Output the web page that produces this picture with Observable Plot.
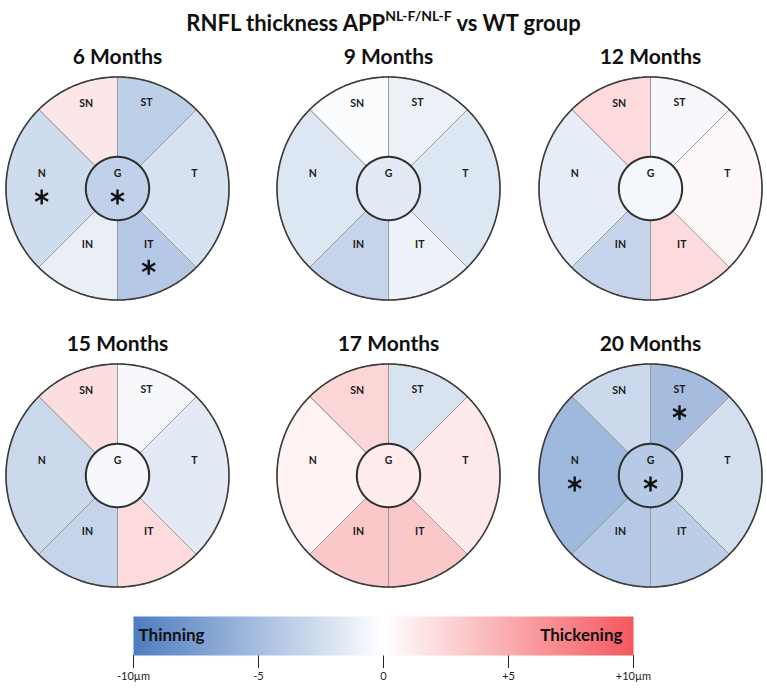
<!DOCTYPE html>
<html>
<head>
<meta charset="utf-8">
<script src="https://cdn.jsdelivr.net/npm/d3@7"></script>
<script src="https://cdn.jsdelivr.net/npm/@observablehq/plot@0.6"></script>
<style>
  body { margin: 0; background: #fff; font-family: Lato, "Open Sans", sans-serif; }
  #title { height: 44px; line-height: 46px; text-align: center; font-weight: 700; font-size: 22px; color: #111; white-space: nowrap; }
  #title sup { font-size: 14px; line-height: 0; position: relative; top: -0.1em; }
  #chart svg, #bar svg { display: block; }
</style>
</head>
<body>
<div id="title">RNFL thickness APP<sup>NL-F/NL-F</sup> vs WT group</div>
<div id="chart"></div>
<div id="bar"></div>
<script>
// ---------------- DATA ----------------
const months = ["6 Months", "9 Months", "12 Months", "15 Months", "17 Months", "20 Months"];
const sectors = ["SN", "ST", "T", "IT", "IN", "N", "G"];
// thickness difference (µm), APP NL-F/NL-F minus WT, in sector order above
const values6  = [ 1.5, -3.7, -2.3, -4.2, -1.2, -2.7, -3.5];
const values9  = [-0.2, -1.1, -1.9, -1.0, -3.3, -1.9, -1.6];
const values12 = [ 2.2, -0.5,  0.4,  2.2, -3.3, -1.4, -0.6];
const values15 = [ 2.0, -0.5, -1.6,  2.2, -3.3, -2.9, -0.5];
const values17 = [ 2.5, -2.2,  1.3,  3.3,  3.3,  0.8,  1.2];
const values20 = [-2.9, -5.1, -2.5, -3.8, -4.2, -5.4, -4.1];
const significant = [["N", "G", "IT"], [], [], [], [], ["ST", "N", "G"]];
const tickValues = [-10, -5, 0, 5, 10];
const tickLabels = ["-10µm", "-5", "0", "+5", "+10µm"];
const legendLow = "Thinning";
const legendHigh = "Thickening";

// ---------------- LAYOUT ----------------
const allValues = [values6, values9, values12, values15, values17, values20];
const PX = 111.5;                      // pixels per unit radius
const W = 767, H = 556;
const colCenters = [0, 271 / PX, 533 / PX];
const rowCenters = [0, -287 / PX];
const rInner = 0.284;
const sectorAngles = {SN: [90, 135], ST: [45, 90], T: [-45, 45], IT: [-90, -45], IN: [-135, -90], N: [135, 225]};
const labelOffset = {SN: [-0.28, 0.76], ST: [0.26, 0.77], T: [0.69, 0.13], IT: [0.28, -0.50], IN: [-0.27, -0.50], N: [-0.68, 0.13], G: [0, 0.13]};
const titleOffset = 1.18;
const starDrop = 23 / PX;
const rad = Math.PI / 180;

const colorScale = {type: "linear", domain: [-10, 0, 10], range: ["#4e7cc0", "#ffffff", "#f4585e"], interpolate: "rgb"};

const sectorPts = [], gPts = [], ringPts = [], labels = [], stars = [], titles = [];
months.forEach((m, i) => {
  const cx = colCenters[i % 3], cy = rowCenters[Math.floor(i / 3)];
  titles.push({x: cx, y: cy + titleOffset, text: m});
  sectors.forEach((s, j) => {
    const v = allValues[i][j];
    const id = m + "-" + s;
    const [lx, ly] = labelOffset[s];
    labels.push({x: cx + lx, y: cy + ly, text: s});
    if (significant[i].includes(s)) stars.push({x: cx + lx, y: cy + ly - starDrop});
    if (s === "G") {
      for (let a = 0; a < 360; a += 2) gPts.push({id, value: v, x: cx + rInner * Math.cos(a * rad), y: cy + rInner * Math.sin(a * rad)});
      return;
    }
    const [a0, a1] = sectorAngles[s];
    for (let a = a0; a <= a1; a += 1) sectorPts.push({id, value: v, x: cx + Math.cos(a * rad), y: cy + Math.sin(a * rad)});
    for (let a = a1; a >= a0; a -= 1) sectorPts.push({id, value: v, x: cx + rInner * Math.cos(a * rad), y: cy + rInner * Math.sin(a * rad)});
  });
  for (let a = 0; a < 360; a += 1) ringPts.push({id: m, x: cx + Math.cos(a * rad), y: cy + Math.sin(a * rad)});
});

const font = "Lato, 'Open Sans', sans-serif";

const chart = Plot.plot({
  width: W, height: H,
  margin: 0,
  style: {fontFamily: font, background: "#fff"},
  x: {domain: [-117 / PX, (W - 117) / PX], range: [0, W], axis: null},
  y: {domain: [(144 - H) / PX, 144 / PX], range: [H, 0], axis: null},
  color: colorScale,
  marks: [
    Plot.line(sectorPts, {x: "x", y: "y", z: "id", fill: "value", stroke: "#9a9a9a", strokeWidth: 1, curve: "linear-closed"}),
    Plot.line(ringPts, {x: "x", y: "y", z: "id", stroke: "#3c3c3c", strokeWidth: 1.6, curve: "linear-closed"}),
    Plot.line(gPts, {x: "x", y: "y", z: "id", fill: "value", stroke: "#2e2e2e", strokeWidth: 2, curve: "linear-closed"}),
    Plot.text(labels, {x: "x", y: "y", text: "text", fontSize: 10.5, fontWeight: 700, fill: "#1a1a1a"}),
    Plot.dot(stars, {x: "x", y: "y", symbol: "asterisk", r: 7, stroke: "#111", strokeWidth: 2.4, strokeLinecap: "butt"}),
    Plot.text(titles, {x: "x", y: "y", text: "text", fontSize: 21, fontWeight: 700, fill: "#111"})
  ]
});
document.getElementById("chart").appendChild(chart);

const bar = Plot.plot({
  width: W, height: 88,
  marginLeft: 133, marginRight: 134, marginTop: 16, marginBottom: 33,
  style: {fontFamily: font, fontSize: "11px", background: "#fff", color: "#222"},
  x: {domain: [-10, 10], ticks: tickValues, tickFormat: d => tickLabels[tickValues.indexOf(d)], tickSize: 13, tickPadding: 4, label: null},
  y: {domain: [0, 1], axis: null},
  color: colorScale,
  marks: [
    Plot.raster({x1: -10, x2: 10, y1: 0, y2: 1, fill: (x, y) => x}),
    Plot.text([legendLow], {x: -10, y: 0.5, text: d => d, dx: 5, textAnchor: "start", fontSize: 17, fontWeight: 700, fill: "#111"}),
    Plot.text([legendHigh], {x: 10, y: 0.5, text: d => d, dx: -11, textAnchor: "end", fontSize: 17, fontWeight: 700, fill: "#111"})
  ]
});
document.getElementById("bar").appendChild(bar);
</script>
</body>
</html>
